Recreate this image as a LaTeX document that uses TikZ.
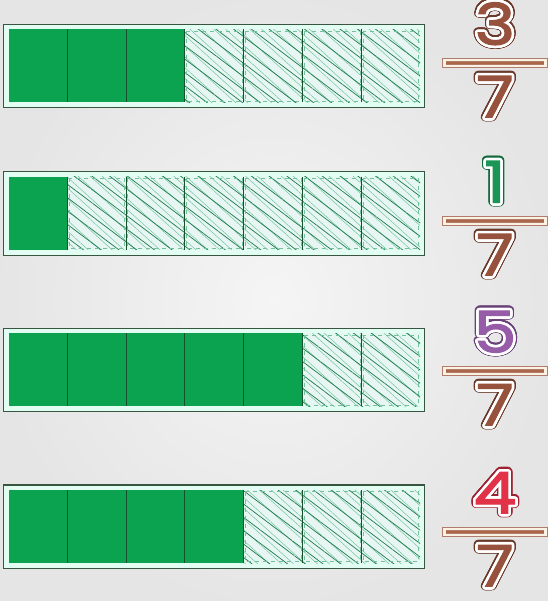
\documentclass[tikz,border=0pt]{standalone}
\usepackage{fontspec}
\usepackage{xcolor}
\usepackage{contour}
\usepackage{tikz}
\usetikzlibrary{patterns.meta}
\newfontfamily\digitfont{Poppins}[FakeStretch=1.2,FakeBold=2]
\definecolor{barGreen}{RGB}{12,163,80}
\definecolor{frameDark}{RGB}{55,85,65}
\definecolor{frameMint}{RGB}{226,254,242}
\definecolor{hatchFill}{RGB}{232,246,243}
\definecolor{hatchDark}{RGB}{30,125,80}
\definecolor{hatchLight}{RGB}{110,195,155}
\definecolor{divDark}{RGB}{22,80,45}
\definecolor{fracBrown}{RGB}{150,82,60}
\definecolor{fracLine}{RGB}{172,102,72}
\definecolor{fracCream}{RGB}{252,242,228}
\definecolor{numGreen}{RGB}{25,150,85}
\definecolor{numPurple}{RGB}{150,92,168}
\definecolor{numRed}{RGB}{225,50,72}
\contournumber{32}

\begin{document}
\begin{tikzpicture}[
  x=0.75pt, y=-0.75pt,
  frame/.style={draw=frameDark, line width=0.9pt, fill=frameMint},
  full/.style={fill=barGreen},
  empty/.style={fill=hatchFill},
  hatchA/.style={pattern={Lines[angle=-37,distance=8pt,line width=0.55pt]}, pattern color=hatchDark},
  hatchB/.style={pattern={Lines[angle=-42,distance=6pt,line width=0.35pt]}, pattern color=hatchLight},
  edge/.style={draw=hatchLight, dashed, line width=0.3pt},
  divider/.style={draw=divDark, line width=0.8pt},
  digit/.style={font=\digitfont\fontsize{43}{43}\selectfont, inner sep=0pt},
  fracbar/.style={draw=fracBrown!75, line width=0.5pt, double=fracCream, double distance=2.2pt,
                  fill=fracLine, minimum width=76pt, minimum height=4.5pt, inner sep=0pt}
]
\useasboundingbox (0,0) rectangle (548,601);
\shade[inner color=gray!8, outer color=gray!20] (0,0) rectangle (548,601);

% bars: index / top / filled cells / numerator colour / numerator / fraction line y
\foreach \i/\ty/\n/\col/\nm/\fy in {1/24.3/3/fracBrown/3/63, 2/171.7/1/numGreen/1/221,
                                    3/328.3/5/numPurple/5/371, 4/485/4/numRed/4/532}{
  \draw[frame] (3.5,\ty) rectangle (424.5,\ty+83.5);
  \foreach \k in {0,...,6}{
    \pgfmathsetmacro\xa{8.5+58.79*\k}
    \pgfmathsetmacro\xb{8.5+58.79*(\k+1)}
    \ifnum\k<\n
      \fill[full] (\xa,\ty+5) rectangle (\xb,\ty+78);
    \else
      \fill[empty] (\xa,\ty+5) rectangle (\xb,\ty+78);
      \fill[hatchB] (\xa,\ty+5) rectangle (\xb,\ty+78);
      \fill[hatchA] (\xa,\ty+5) rectangle (\xb,\ty+78);
      \draw[edge] (\xa+1.5,\ty+6.5) rectangle (\xb-1.5,\ty+76.5);
    \fi
  }
  \foreach \k in {1,...,6}{
    \pgfmathsetmacro\xd{8.5+58.79*\k}
    \draw[divider] (\xd,\ty+5) -- (\xd,\ty+78);
  }

  % fraction
  \node[fracbar] (line\i) at (495,\fy) {};
  \node[digit] (numring\i) at (495,\fy-38)
    {\contourlength{3pt}\contour{\col!70!black}{\textcolor{\col!70!black}{\nm}}};
  \node[digit, text=\col] (num\i) at (numring\i)
    {\contourlength{1.9pt}\contour{white}{\nm}};
  \node[digit] (denring\i) at (495,\fy+35)
    {\contourlength{3pt}\contour{fracBrown!70!black}{\textcolor{fracBrown!70!black}{7}}};
  \node[digit, text=fracBrown] (den\i) at (denring\i)
    {\contourlength{1.9pt}\contour{white}{7}};
}
\end{tikzpicture}
\end{document}
